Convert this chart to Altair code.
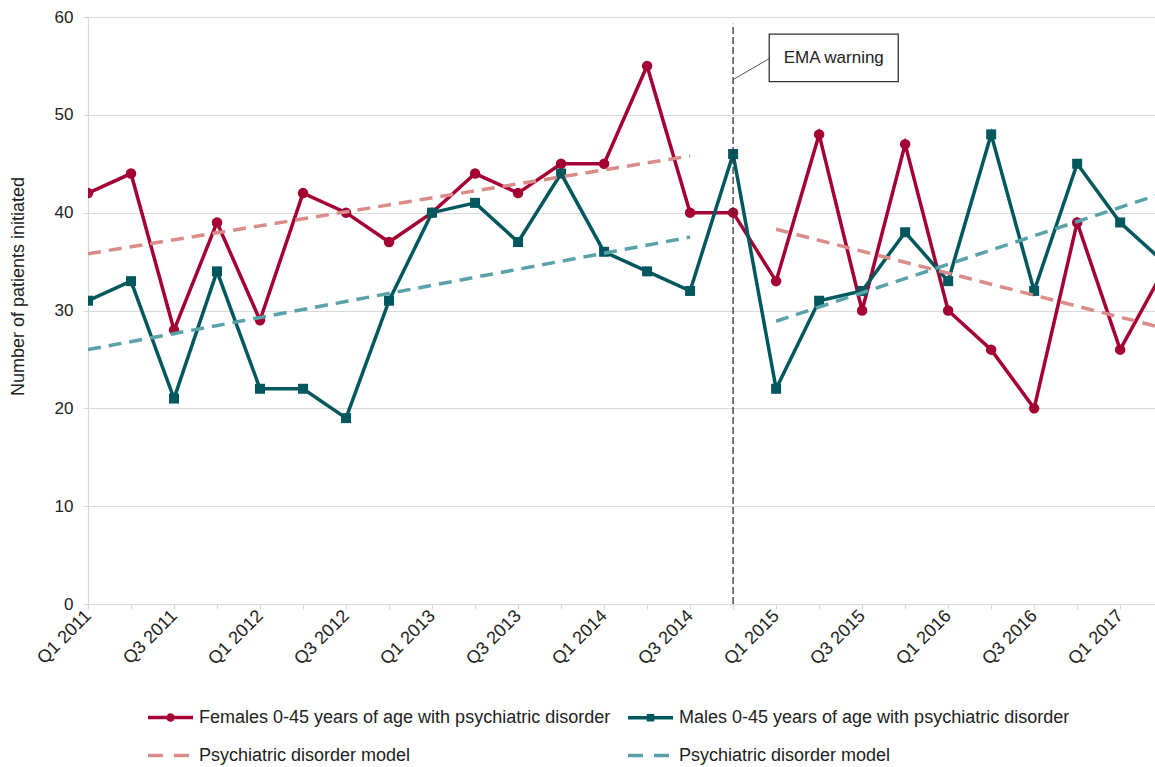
import altair as alt
import pandas as pd

# ---------------- data ----------------
quarters = [
    "Q1 2011", "Q2 2011", "Q3 2011", "Q4 2011",
    "Q1 2012", "Q2 2012", "Q3 2012", "Q4 2012",
    "Q1 2013", "Q2 2013", "Q3 2013", "Q4 2013",
    "Q1 2014", "Q2 2014", "Q3 2014", "Q4 2014",
    "Q1 2015", "Q2 2015", "Q3 2015", "Q4 2015",
    "Q1 2016", "Q2 2016", "Q3 2016", "Q4 2016",
    "Q1 2017", "Q2 2017",
]
females = [42, 44, 28, 39, 29, 42, 40, 37, 40, 44, 42, 45, 45, 55, 40, 40,
           33, 48, 30, 47, 30, 26, 20, 39, 26, 34]
males = [31, 33, 21, 34, 22, 22, 19, 31, 40, 41, 37, 44, 36, 34, 32, 46,
         22, 31, 32, 38, 33, 48, 32, 45, 39, 35]

# model (trend) segments: endpoints
model_pre_quarters = ["Q1 2011", "Q3 2014"]
female_model_pre = [35.8, 45.8]
male_model_pre = [26.0, 37.5]
model_post_quarters = ["Q1 2015", "Q2 2017"]
female_model_post = [38.3, 28.2]
male_model_post = [28.9, 42.0]

# annotation
ema_quarter = "Q4 2014"
ema_top = 59.3
ema_text = "EMA warning"
ema_box_x = [15.84, 18.84]      # in quarter-index units
ema_box_y = [53.4, 58.25]
ema_text_pos = [17.34, 55.8]
ema_leader_x = [15.0, 15.86]
ema_leader_y = [53.6, 55.8]

x_max = 24.81  # visible right edge of the plot (cut between Q1 and Q2 2017)

series_labels = [
    "Females 0-45 years of age with psychiatric disorder",
    "Males 0-45 years of age with psychiatric disorder",
    "Psychiatric disorder model (females)",
    "Psychiatric disorder model (males)",
]

FEM = "#A50034"
MAL = "#00585E"
FEM_M = "#D98C88"
MAL_M = "#5AA2A9"
GRID = "#D9D9D9"
TXT = "#222222"
FONT = "Liberation Sans"

# ---------------- tables ----------------
qi = {q: i for i, q in enumerate(quarters)}
df_f = pd.DataFrame({"idx": range(len(quarters)), "value": females})
df_m = pd.DataFrame({"idx": range(len(quarters)), "value": males})

df_fm = pd.DataFrame({
    "idx": [qi[q] for q in model_pre_quarters] + [qi[q] for q in model_post_quarters],
    "value": female_model_pre + female_model_post,
    "seg": ["pre", "pre", "post", "post"],
})
df_mm = pd.DataFrame({
    "idx": [qi[q] for q in model_pre_quarters] + [qi[q] for q in model_post_quarters],
    "value": male_model_pre + male_model_post,
    "seg": ["pre", "pre", "post", "post"],
})

label_array = "[" + ",".join("'" + q + "'" for q in quarters) + "]"
x_axis = alt.Axis(
    values=list(range(25)),
    labelExpr=f"datum.value % 2 == 0 ? {label_array}[datum.value] : ''",
    labelAngle=315, labelAlign="right", labelBaseline="middle",
    labelFont=FONT, labelFontSize=18, labelColor=TXT, labelPadding=4,
    labelOverlap=False, labelBound=False, labelFlush=False,
    tickSize=5, tickColor=GRID, tickWidth=1.2,
    domainColor=GRID, domainWidth=1.2, grid=False, title=None,
)
y_axis = alt.Axis(
    values=[0, 10, 20, 30, 40, 50, 60],
    grid=True, gridColor=GRID, gridWidth=1.2,
    domainColor=GRID, domainWidth=1.2, tickColor=GRID, tickSize=5, tickWidth=1.2,
    labelFont=FONT, labelFontSize=17, labelColor=TXT, labelPadding=10,
    title="Number of patients initiated", titleFont=FONT, titleFontSize=18,
    titleFontWeight="normal", titleColor=TXT, titleAngle=270,
    titleX=-70, titleY=269, titleAlign="center", titleBaseline="middle",
)

X = alt.X("idx:Q", scale=alt.Scale(domain=[0, x_max], nice=False, zero=False), axis=x_axis)
Y = alt.Y("value:Q", scale=alt.Scale(domain=[0, 60], nice=False), axis=y_axis)

f_line = alt.Chart(df_f).mark_line(color=FEM, strokeWidth=3.5, clip=True).encode(x=X, y=Y)
f_pts = alt.Chart(df_f).mark_point(shape="circle", filled=True, size=110, color=FEM,
                                   opacity=1, clip=True).encode(x=X, y=Y)
m_line = alt.Chart(df_m).mark_line(color=MAL, strokeWidth=3.5, clip=True).encode(x=X, y=Y)
m_pts = alt.Chart(df_m).mark_point(shape="square", filled=True, size=100, color=MAL,
                                   opacity=1, clip=True).encode(x=X, y=Y)

fm_line = alt.Chart(df_fm).mark_line(color=FEM_M, strokeWidth=3.5, strokeDash=[13, 8],
                                     clip=True).encode(x=X, y=Y, detail="seg:N")
mm_line = alt.Chart(df_mm).mark_line(color=MAL_M, strokeWidth=3.5, strokeDash=[13, 8],
                                     clip=True).encode(x=X, y=Y, detail="seg:N")

# EMA warning annotation
df_ema = pd.DataFrame({"idx": [qi[ema_quarter]], "value": [0], "top": [ema_top]})
ema_rule = alt.Chart(df_ema).mark_rule(color="#333333", strokeWidth=1.3,
                                       strokeDash=[7, 3]).encode(
    x=X, y=Y, y2="top:Q")
df_box = pd.DataFrame({"idx": [ema_box_x[0]], "idx2": [ema_box_x[1]],
                       "value": [ema_box_y[0]], "value2": [ema_box_y[1]]})
ema_box = alt.Chart(df_box).mark_rect(fill="white", stroke="#333333", strokeWidth=1.3).encode(
    x=X, x2="idx2:Q", y=Y, y2="value2:Q")
df_txt = pd.DataFrame({"idx": [ema_text_pos[0]], "value": [ema_text_pos[1]], "t": [ema_text]})
ema_label = alt.Chart(df_txt).mark_text(font=FONT, fontSize=17, color=TXT, align="center",
                                        baseline="middle").encode(x=X, y=Y, text="t:N")
df_lead = pd.DataFrame({"idx": [ema_leader_x[0]], "idx2": [ema_leader_x[1]],
                        "value": [ema_leader_y[0]], "value2": [ema_leader_y[1]]})
ema_lead = alt.Chart(df_lead).mark_rule(color="#555555", strokeWidth=1).encode(
    x=X, x2="idx2:Q", y=Y, y2="value2:Q")

# legend helper (marks placed outside the domain and clipped; only the legend shows)
df_leg = pd.DataFrame({"idx": [-5] * 4, "value": [30] * 4, "series": series_labels})
legend = alt.Legend(
    title=None, orient="none", legendX=58, legendY=676, columns=2, direction="horizontal",
    columnPadding=10, rowPadding=4, padding=0,
    symbolSize=2025, symbolStrokeWidth=3.5, symbolOpacity=1,
    labelFont=FONT, labelFontSize=18, labelColor=TXT, labelOffset=4, labelLimit=800,
    labelExpr="indexof(datum.label, 'model') >= 0 ? 'Psychiatric disorder model' : datum.label",
)
circle_path = "M-1,0H1M-0.11,0A0.11,0.11,0,1,1,0.11,0A0.11,0.11,0,1,1,-0.11,0Z"
square_path = "M-1,0H1M-0.09,-0.09H0.09V0.09H-0.09Z"
line_path = "M-1,0H1"
leg = alt.Chart(df_leg).mark_point(strokeWidth=3.5, clip=True).encode(
    x=X, y=Y,
    fill=alt.Fill("series:N", scale=alt.Scale(domain=series_labels,
                                              range=[FEM, MAL, FEM_M, MAL_M]), legend=legend),
    stroke=alt.Stroke("series:N", scale=alt.Scale(domain=series_labels,
                                                  range=[FEM, MAL, FEM_M, MAL_M]), legend=legend),
    shape=alt.Shape("series:N", scale=alt.Scale(domain=series_labels,
                                                range=[circle_path, square_path, line_path, line_path]),
                    legend=legend),
    strokeDash=alt.StrokeDash("series:N", scale=alt.Scale(domain=series_labels,
                                                          range=[[1, 0], [1, 0], [15, 11], [15, 11]]),
                              legend=legend),
)

chart = alt.layer(
    f_line, f_pts, m_line, m_pts, fm_line, mm_line,
    ema_rule, ema_lead, ema_box, ema_label, leg,
).properties(
    width=1067, height=587,
    autosize=alt.AutoSizeParams(type="none"),
    padding={"left": 88, "top": 17, "right": 0, "bottom": 161},
    background="white",
).configure_view(stroke=None)

chart.save("out.html", embed_options={"renderer": "svg", "actions": False})
